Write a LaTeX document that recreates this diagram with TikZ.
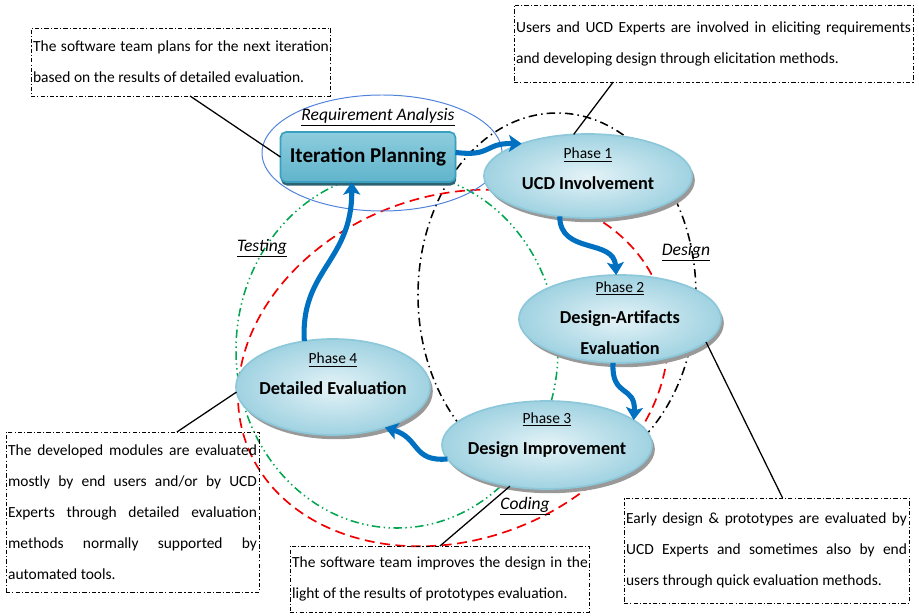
\documentclass[tikz,border=0pt]{standalone}
\usepackage{fontspec}
\setmainfont{Carlito}
\usetikzlibrary{shapes.geometric,arrows.meta,shadows}
\definecolor{flowblue}{RGB}{0,112,192}
\definecolor{phaseedge}{RGB}{140,200,218}
\definecolor{phaselight}{RGB}{228,243,247}
\definecolor{phasedark}{RGB}{160,210,225}
\definecolor{iptop}{RGB}{141,205,222}
\definecolor{ipmid}{RGB}{70,162,192}
\definecolor{ipbottom}{RGB}{96,180,204}
\definecolor{ipedge}{RGB}{58,160,192}
\definecolor{ipshadow}{RGB}{44,98,114}
\definecolor{raring}{RGB}{80,130,220}
\definecolor{testring}{RGB}{0,166,80}
\definecolor{codering}{RGB}{240,0,0}

\begin{document}
\begin{tikzpicture}[x=0.025cm, y=-0.025cm,
    phase/.style={ellipse, draw=phaseedge, line width=1.2pt, inner color=phaselight, outer color=phasedark,
        drop shadow={shadow xshift=2pt, shadow yshift=-3pt, fill=black!40, opacity=1}, outer sep=0pt},
    phasetext/.style={align=center, font=\fontsize{11}{22}\selectfont},
    ipbox/.style={rectangle, rounded corners=4pt, draw=ipedge, line width=1.2pt,
        top color=iptop, middle color=ipmid, bottom color=ipbottom,
        minimum width=4.375cm, minimum height=1.25cm, outer sep=0pt,
        font=\fontsize{15}{18}\selectfont\bfseries,
        drop shadow={shadow xshift=0.5pt, shadow yshift=-2.5pt, fill=ipshadow, opacity=1}},
    note/.style={draw, line width=0.6pt, dash pattern=on 3pt off 1.5pt on 0.8pt off 1.5pt,
        anchor=north west, align=justify, inner xsep=1.5pt, inner ysep=0pt, outer sep=0pt,
        font=\fontsize{11}{22}\selectfont},
    stage/.style={font=\fontsize{12.5}{15}\selectfont\itshape},
    flow/.style={flowblue, line width=3.6pt, -{Stealth[length=9pt,width=12pt,inset=2pt]}},
    callout/.style={line width=0.9pt}]
    \useasboundingbox (0,0) rectangle (919,616);

    % stage rings
    \draw[black, line width=1.1pt, dash pattern=on 6pt off 3pt on 1pt off 3pt] (557,295) ellipse [x radius=139, y radius=182];
    \draw[testring, line width=1.1pt, dash pattern=on 6pt off 2.5pt on 1pt off 2.5pt on 1pt off 2.5pt] (397,350) ellipse [x radius=161, y radius=178];
    \draw[codering, line width=1.2pt, dash pattern=on 7pt off 4pt, rotate around={20:(453,368)}] (453,368) ellipse [x radius=220, y radius=172];
    \draw[raring, line width=0.7pt] (382,153) ellipse [x radius=120, y radius=58];

    % phases
    \node[phase, minimum width=5.2cm, minimum height=2.1cm] (p1) at (588,176) {};
    \node[phase, minimum width=5.05cm, minimum height=2.2cm] (p2) at (620,319) {};
    \node[phase, minimum width=5.25cm, minimum height=2.2cm] (p3) at (547,445) {};
    \node[phase, minimum width=4.85cm, minimum height=2.4cm] (p4) at (333,387) {};
    \node[phasetext] (p1text) at (588,169) {\underline{Phase 1}\\{\fontsize{13}{22}\selectfont\bfseries UCD Involvement}};
    \node[phasetext] (p2text) at (620,318) {\underline{Phase 2}\\{\fontsize{13}{22}\selectfont\bfseries Design-Artifacts}\\{\fontsize{13}{22}\selectfont\bfseries Evaluation}};
    \node[phasetext] (p3text) at (547,435) {\underline{Phase 3}\\{\fontsize{13}{22}\selectfont\bfseries Design Improvement}};
    \node[phasetext] (p4text) at (333,374) {\underline{Phase 4}\\{\fontsize{13}{22}\selectfont\bfseries Detailed Evaluation}};
    \node[ipbox] (ip) at (368,157) {Iteration Planning};

    % stage names
    \node[stage] (ra) at (378,117) {\underline{Requirement Analysis}};
    \node[stage] (testing) at (262,248) {\underline{Testing}};
    \node[stage] (design) at (686,252) {\underline{Design}};
    \node[stage] (coding) at (525,506) {\underline{Coding}};

    % notes
    \node[note, text width=7.39cm, minimum height=1.7cm] (plannote) at (31,28)
        {The software team plans for the next iteration\linebreak based on the results of detailed evaluation.};
    \node[note, text width=9.87cm, minimum height=1.925cm] (ucdnote) at (514,5)
        {Users and UCD Experts are involved in eliciting requirements\linebreak and developing design through elicitation methods.};
    \node[note, text width=6.22cm, minimum height=4cm] (evalnote) at (6,432)
        {The developed modules are evaluated\linebreak mostly by end users and/or by UCD\linebreak Experts through detailed evaluation\linebreak methods normally supported by\linebreak automated tools.};
    \node[note, text width=7.39cm, minimum height=1.65cm] (improvenote) at (290,546)
        {The software team improves the design in the\linebreak light of the results of prototypes evaluation.};
    \node[note, text width=7.02cm, minimum height=2.625cm] (designnote) at (624,498)
        {Early design \& prototypes are evaluated by\linebreak UCD Experts and sometimes also by end\linebreak users through quick evaluation methods.};

    % flow
    \draw[flow] (ip.3) .. controls (492,157) and (484,143) .. (p1.154);
    \draw[flow] (p1.235) .. controls (560,255) and (614,238) .. (p2.95);
    \draw[flow] (p2.261) .. controls (611,398) and (636,385) .. (p3.16);
    \draw[flow] (p3.188) .. controls (412,462) and (420,438) .. (p4.322);
    \draw[flow] (p4.122) .. controls (300,270) and (352,262) .. (ip.237);

    % callouts
    \draw[callout] (plannote.285) -- (ip.west);
    \draw[callout] (ucdnote.201) -- (p1.109);
    \draw[callout] (designnote.73) -- (p2.345);
    \draw[callout] (evalnote.61) -- (p4.183);
    \draw[callout] (improvenote.north) -- (p3.228);
\end{tikzpicture}
\end{document}
